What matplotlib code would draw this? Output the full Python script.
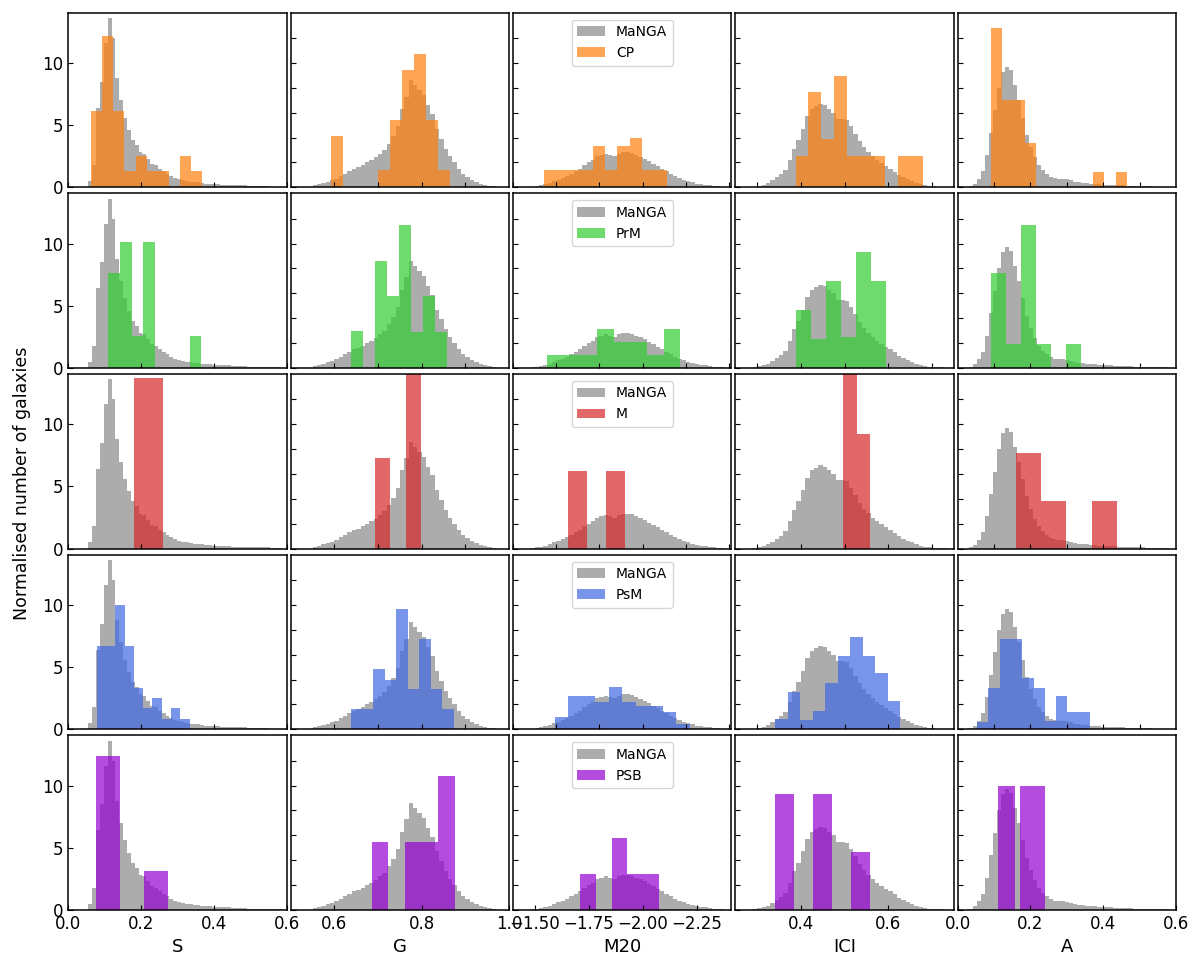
import numpy as np
import matplotlib
matplotlib.use('Agg')
import matplotlib.pyplot as plt

plt.rcParams['font.size'] = 12

params = ['S', 'G', 'M20', 'ICI', 'A']
classes = ['CP', 'PrM', 'M', 'PsM', 'PSB']

# MaNGA comparison sample (same in every row), heights left to right across panel
manga_ranges = [(0.055, 0.585), (0.55, 0.97), (-1.48, -2.38), (0.29, 0.74), (0.03, 0.58)]
manga_S = [0.5, 1.8, 6.4, 8.5, 11.6, 13.6, 12.0, 8.8, 7.0, 5.6,
           4.6, 3.8, 3.4, 2.8, 2.7, 2.3, 1.9, 1.8, 1.5, 1.3,
           1.1, 0.9, 0.75, 0.65, 0.55, 0.5, 0.45, 0.4, 0.4, 0.35,
           0.3, 0.3, 0.25, 0.25, 0.2, 0.2, 0.2, 0.15, 0.15, 0.15,
           0.15, 0.1, 0.1, 0.1, 0.1, 0.1, 0.1, 0.05, 0.05, 0.05]
manga_G = [0.15, 0.25, 0.35, 0.45, 0.55, 0.7, 0.9, 1.1, 1.3, 1.5,
           1.6, 1.8, 2.0, 2.2, 2.4, 2.7, 3.0, 3.5, 4.1, 4.9,
           6.3, 7.3, 8.6, 8.2, 7.8, 7.4, 6.6, 5.9, 4.7, 3.9,
           3.1, 2.5, 2.0, 1.5, 1.1, 0.85, 0.6, 0.45, 0.3, 0.2,
           0.12, 0.08]
manga_M20 = [0.05, 0.1, 0.15, 0.25, 0.35, 0.5, 0.6, 0.75, 0.9, 1.1,
             1.3, 1.5, 1.8, 2.0, 2.2, 2.5, 2.6, 2.7, 2.6, 2.5,
             2.7, 2.8, 2.8, 2.75, 2.6, 2.45, 2.3, 2.1, 1.9, 1.7,
             1.5, 1.3, 1.1, 0.9, 0.75, 0.6, 0.5, 0.4, 0.3, 0.25,
             0.2, 0.15, 0.1, 0.08, 0.05]
manga_ICI = [0.05, 0.12, 0.2, 0.35, 0.55, 0.8, 1.05, 1.4, 2.2, 3.1,
             3.8, 4.7, 5.7, 6.3, 6.5, 6.7, 6.6, 6.3, 6.0, 5.5,
             5.5, 5.4, 4.9, 4.3, 3.7, 3.2, 2.85, 2.5, 2.2, 1.95,
             1.7, 1.5, 1.25, 1.0, 0.8, 0.65, 0.5, 0.35, 0.25, 0.15,
             0.1, 0.08, 0.05, 0.04, 0.03]
manga_A = [0.1, 0.3, 0.7, 1.3, 2.6, 4.4, 6.2, 8.0, 9.3, 9.7,
           9.4, 8.2, 7.0, 5.6, 4.2, 3.2, 2.4, 1.8, 1.4, 1.1,
           0.85, 0.75, 0.7, 0.7, 0.65, 0.55, 0.45, 0.4, 0.38, 0.35,
           0.3, 0.28, 0.25, 0.22, 0.2, 0.2, 0.18, 0.15, 0.15, 0.12,
           0.12, 0.1, 0.1, 0.1, 0.08, 0.08, 0.06, 0.05, 0.05, 0.04]
manga_heights = [manga_S, manga_G, manga_M20, manga_ICI, manga_A]

# merger classes: bin range per parameter and bar heights
cp_ranges = [(0.062, 0.368), (0.592, 0.864), (-1.543, -2.110), (0.388, 0.680), (0.091, 0.465)]
cp_heights = [[6.1, 12.2, 6.1, 1.35, 2.5, 1.35, 1.35, 0, 2.5, 1.35],
              [4.1, 0, 0, 0, 1.4, 5.4, 9.4, 10.7, 5.4, 1.4],
              [1.37, 1.37, 1.37, 1.37, 3.35, 1.37, 3.35, 3.97, 1.37, 1.37],
              [2.55, 7.64, 3.9, 8.93, 2.55, 2.55, 2.55, 0, 2.55, 2.55],
              [12.8, 7.05, 7.05, 3.57, 0, 0, 0, 0, 0, 1.23, 0, 1.23]]

prm_ranges = [(0.110, 0.365), (0.637, 0.859), (-1.559, -2.174), (0.390, 0.595), (0.0925, 0.340)]
prm_heights = [[7.6, 10.1, 2.6, 10.1, 0, 0, 0, 2.6],
               [2.94, 0, 8.6, 5.8, 11.5, 2.9, 5.75, 2.9],
               [1.04, 1.04, 1.04, 3.13, 2.06, 2.06, 1.04, 3.13],
               [4.68, 2.33, 7.0, 2.46, 9.33, 7.0],
               [7.6, 1.93, 11.5, 1.93, 0, 1.93]]

m_ranges = [(0.18, 0.26), (0.693, 0.799), (-1.656, -1.918), (0.497, 0.558), (0.161, 0.437)]
m_heights = [[13.7],
             [7.3, 0, 21.9],
             [6.27, 0, 6.27],
             [27.7, 9.24],
             [7.7, 3.86, 0, 3.86]]

psm_ranges = [(0.078, 0.333), (0.637, 0.873), (-1.593, -2.217), (0.3415, 0.627), (0.053, 0.364)]
psm_heights = [[6.72, 6.72, 10.0, 6.72, 3.33, 1.7, 2.5, 0.86, 1.7, 0.86],
               [1.61, 1.61, 4.84, 4.0, 9.68, 3.2, 7.26, 3.2, 1.61],
               [1.0, 2.69, 2.69, 2.2, 3.36, 2.2, 1.88, 1.88, 1.4, 0.46],
               [0.86, 3.0, 0.73, 1.46, 3.76, 5.9, 7.4, 5.9, 4.5, 2.3],
               [0.6, 3.33, 7.3, 7.3, 4.1, 3.33, 0.7, 2.69, 1.4, 1.4]]

psb_ranges = [(0.0745, 0.274), (0.685, 0.876), (-1.712, -2.074), (0.34, 0.559), (0.112, 0.240)]
psb_heights = [[12.4, 0, 3.12],
               [5.43, 0, 5.43, 5.43, 10.8],
               [2.88, 0, 5.75, 2.88, 2.88],
               [9.33, 0, 9.33, 0, 4.65],
               [9.95, 9.95, 9.95, 9.95, 0, 9.95, 9.95, 9.95, 9.95, 9.95, 9.95]]

class_ranges = [cp_ranges, prm_ranges, m_ranges, psm_ranges, psb_ranges]
class_heights = [cp_heights, prm_heights, m_heights, psm_heights, psb_heights]
class_colors = ['tab:orange', 'limegreen', 'tab:red', 'royalblue', 'darkviolet']

xlims = [(0.0, 0.6), (0.5, 1.0), (-1.4, -2.41), (0.25, 0.75), (0.0, 0.6)]
ticks_upper = [[0, 0.2, 0.4, 0.6], [0.6, 0.7, 0.8, 0.9],
               [-1.4, -1.6, -1.8, -2.0, -2.2, -2.4],
               [0.3, 0.4, 0.5, 0.6, 0.7], [0.1, 0.2, 0.3, 0.4, 0.5]]
ticks_bottom = [[0, 0.2, 0.4, 0.6], [0.6, 0.8, 1.0],
                [-1.5, -1.75, -2.0, -2.25], [0.4, 0.6], [0, 0.2, 0.4, 0.6]]


def draw_hist(ax, rng, heights, **kw):
    lo, hi = rng
    edges = np.linspace(lo, hi, len(heights) + 1)
    h = np.asarray(heights, dtype=float)
    if hi < lo:
        edges, h = edges[::-1], h[::-1]
    return ax.stairs(h, edges, fill=True, **kw)


fig, axes = plt.subplots(5, 5, figsize=(12, 9.67), dpi=100)
fig.subplots_adjust(left=0.057, right=0.98, top=0.987, bottom=0.059,
                    wspace=0.018, hspace=0.034)

for i, cls in enumerate(classes):
    for j, par in enumerate(params):
        ax = axes[i, j]
        draw_hist(ax, manga_ranges[j], manga_heights[j],
                  color='grey', alpha=0.65, linewidth=0, label='MaNGA')
        draw_hist(ax, class_ranges[i][j], class_heights[i][j],
                  color=class_colors[i], alpha=0.7, linewidth=0, label=cls)
        ax.set_ylim(0, 14.05)
        ax.tick_params(direction='in', labelsize=12)
        for s in ax.spines.values():
            s.set_linewidth(1.1)
        if j == 0:
            ax.set_yticks([0, 5, 10])
        else:
            ax.set_yticks([0, 2, 4, 6, 8, 10, 12])
            ax.tick_params(labelleft=False)
        if i == 4:
            ax.set_xticks(ticks_bottom[j])
            ax.set_xlabel(par, fontsize=13)
        else:
            ax.set_xticks(ticks_upper[j])
            ax.tick_params(labelbottom=False)
        ax.set_xlim(*xlims[j])
        if j == 2:
            ax.legend(loc='upper center', fontsize=10)

fig.text(0.018, 0.5, 'Normalised number of galaxies', rotation=90,
         va='center', ha='center', fontsize=12.5)

fig.savefig('out.png', dpi=100)
